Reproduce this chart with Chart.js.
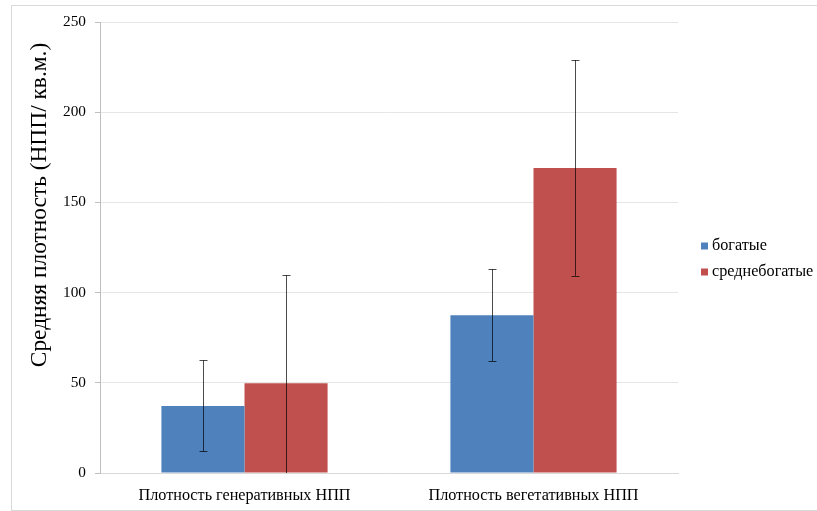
<!DOCTYPE html>
<html>
<head>
<meta charset="utf-8">
<script src="https://cdn.jsdelivr.net/npm/chart.js@4/dist/chart.umd.min.js"></script>
<style>
  body { margin: 0; background: #fff; }
  #wrap { position: relative; width: 817px; height: 511px; overflow: hidden; }
  #frame { position: absolute; left: 11px; top: 5px; width: 900px; height: 504px; border: 1px solid #d9d9d9; }
  #chart { position: absolute; left: 0; top: 0; }
</style>
</head>
<body>
<div id="wrap">
  <div id="frame"></div>
  <canvas id="chart" width="817" height="511"></canvas>
</div>
<script>
// Data
const categories = ['Плотность генеративных НПП', 'Плотность вегетативных НПП'];
const seriesNames = ['богатые', 'среднебогатые'];
const richValues = [37.2, 87.5];
const richErrors = [25.2, 25.5];
const midValues = [49.8, 169.1];
const midErrors = [59.8, 59.8];
const yTitle = 'Средняя плотность (НПП/ кв.м.)';

const FONT = '"Liberation Serif", "Times New Roman", serif';

// error bars drawn through the y scale
const errorBarPlugin = {
  id: 'errorBars',
  afterDatasetsDraw(chart) {
    const ctx = chart.ctx;
    const yScale = chart.scales.y;
    const area = chart.chartArea;
    ctx.save();
    ctx.beginPath();
    ctx.rect(area.left, area.top - 1, area.right - area.left, area.bottom - area.top + 1);
    ctx.clip();
    ctx.strokeStyle = 'rgba(0,0,0,0.7)';
    ctx.lineWidth = 1;
    chart.data.datasets.forEach((ds, i) => {
      const meta = chart.getDatasetMeta(i);
      meta.data.forEach((bar, j) => {
        const v = ds.data[j];
        const e = ds.errors[j];
        const x = Math.round(bar.x) + 0.5;
        const yTop = yScale.getPixelForValue(v + e);
        const yBot = yScale.getPixelForValue(v - e);
        ctx.beginPath();
        ctx.moveTo(x, yTop);
        ctx.lineTo(x, yBot);
        ctx.moveTo(x - 4, Math.round(yTop) + 0.5);
        ctx.lineTo(x + 4, Math.round(yTop) + 0.5);
        ctx.moveTo(x - 4, Math.round(yBot) + 0.5);
        ctx.lineTo(x + 4, Math.round(yBot) + 0.5);
        ctx.stroke();
      });
    });
    ctx.restore();
  }
};

// y title and legend drawn by hand for placement
const extrasPlugin = {
  id: 'extras',
  afterDraw(chart) {
    const ctx = chart.ctx;
    ctx.save();
    ctx.fillStyle = '#000';
    ctx.font = '23.4px ' + FONT;
    ctx.textAlign = 'center';
    ctx.textBaseline = 'middle';
    ctx.translate(40, 205);
    ctx.rotate(-Math.PI / 2);
    ctx.fillText(yTitle, 0, 0);
    ctx.restore();

    ctx.save();
    ctx.font = '16.2px ' + FONT;
    ctx.textBaseline = 'middle';
    chart.data.datasets.forEach((ds, i) => {
      const y = 246 + i * 26;
      ctx.fillStyle = ds.backgroundColor;
      ctx.fillRect(701, y - 3.5, 7, 7);
      ctx.fillStyle = '#000';
      ctx.fillText(ds.label, 712, y);
    });
    ctx.restore();
  }
};

new Chart(document.getElementById('chart'), {
  type: 'bar',
  data: {
    labels: categories,
    datasets: [
      { label: seriesNames[0], data: richValues, errors: richErrors, backgroundColor: '#4f81bd' },
      { label: seriesNames[1], data: midValues, errors: midErrors, backgroundColor: '#c0504d' }
    ]
  },
  options: {
    responsive: false,
    animation: false,
    layout: { padding: { top: 22, right: 139, left: 0, bottom: 0 } },
    datasets: { bar: { categoryPercentage: 0.575, barPercentage: 1.0 } },
    plugins: { legend: { display: false }, tooltip: { enabled: false } },
    scales: {
      x: {
        afterFit(scale) { scale.height = 38; },
        grid: { display: false, drawTicks: false },
        border: { display: true, color: '#d9d9d9' },
        ticks: { color: '#000', font: { family: FONT, size: 16.2 }, padding: 13 }
      },
      y: {
        min: 0, max: 250,
        afterFit(scale) { scale.width = 100; },
        grid: { color: '#e6e6e6', tickColor: '#bfbfbf', tickLength: 5 },
        border: { display: true, color: '#bfbfbf' },
        ticks: { stepSize: 50, color: '#000', font: { family: FONT, size: 15.3 }, padding: 9 }
      }
    }
  },
  plugins: [errorBarPlugin, extrasPlugin]
});
</script>
</body>
</html>
